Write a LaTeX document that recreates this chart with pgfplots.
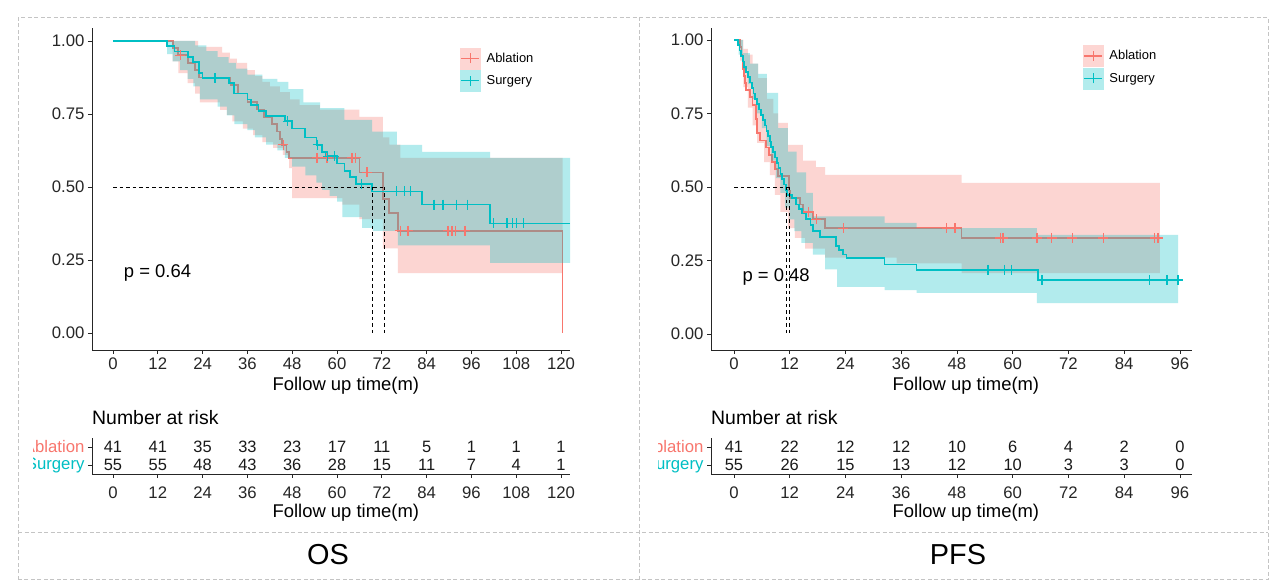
\documentclass[border=0pt]{standalone}
\usepackage{pgfplots}
\pgfplotsset{compat=1.18}
\usepackage{fontspec}
\setmainfont{Liberation Sans}
\definecolor{abl}{HTML}{F8766D}
\definecolor{sur}{HTML}{00BFC4}
\definecolor{framec}{HTML}{C4C4C4}

\pgfplotsset{
  kmbase/.style={
    scale only axis,
    axis x line*=bottom, axis y line*=left,
    axis line style={black!85, line width=0.9bp, -},
    tick align=outside, major tick length=4bp,
    every tick/.style={black!85, line width=0.8bp},
    tick label style={font=\fontsize{16.8}{17}\selectfont, text=black!85},
    /pgf/number format/assume math mode=true,
    xlabel style={font=\fontsize{18.5}{18.5}\selectfont, anchor=north, yshift=-24bp},
  },
  kmmain/.style={kmbase, height=322bp,
    ytick={0,0.25,0.5,0.75,1},
    yticklabel style={/pgf/number format/.cd, fixed, fixed zerofill, precision=2},
    xlabel={Follow up time(m)},
    legend style={draw=none, fill=none, font=\fontsize{13}{13.5}\selectfont, row sep=1bp, inner sep=0pt,
      /tikz/every odd column/.append style={column sep=4bp}},
    legend cell align=left,
  },
  kmrisk/.style={kmbase, height=36bp, ymin=0.5, ymax=2.5, ytick={1,2}, clip=false,
    yticklabels={\textcolor{sur}{Surgery}, \textcolor{abl}{Ablation}},
    xticklabel style={yshift=-5bp},
    xlabel={Follow up time(m)}, xlabel style={yshift=-3bp},
  },
  band/.style={const plot, draw=none, fill opacity=0.3, forget plot},
  kmline/.style={const plot, line width=1.7bp, forget plot},
  cens/.style={only marks, mark=+, mark size=5bp, line width=1.3bp, forget plot},
  medline/.style={black, line width=0.9bp, dash pattern=on 3.5bp off 3bp, forget plot},
  risknum/.style={only marks, mark=none, nodes near coords, point meta=explicit symbolic,
    every node near coord/.append style={anchor=center, font=\fontsize{16.5}{17}\selectfont, text=black!90}},
  ablkey/.style={legend image code/.code={
    \fill[abl!30] (0bp,-10.5bp) rectangle (20bp,10.5bp);
    \draw[abl, line width=1.4bp] (1bp,0bp) -- (19bp,0bp);
    \draw[abl, line width=1.4bp] (10bp,-5bp) -- (10bp,5bp);}},
  surkey/.style={legend image code/.code={
    \fill[sur!30] (0bp,-10.5bp) rectangle (20bp,10.5bp);
    \draw[sur, line width=1.4bp] (1bp,0bp) -- (19bp,0bp);
    \draw[sur, line width=1.4bp] (10bp,-5bp) -- (10bp,5bp);}},
}

\begin{document}
\begin{tikzpicture}
\useasboundingbox (0,0) rectangle (1274bp,584bp);
\fill[white] (0,0) rectangle (1274bp,584bp);

%================ OS main =================
\begin{axis}[kmmain, at={(92bp,234bp)}, anchor=south west, width=478bp,
  xmin=-5.625, xmax=122.4, ymin=-0.0582, ymax=1.0445, xtick={0,12,...,120},
  xlabel style={at={(axis description cs:0.531,0)}},
  legend style={at={(0.77,0.94)}, anchor=north west}]
\addlegendimage{ablkey}\addlegendentry{Ablation}
\addlegendimage{surkey}\addlegendentry{Surgery}
% Ablation band: upper limit forward, lower limit backward
\addplot[band, fill=abl] table {
x y
0 1
22.8 0.98
29.2 0.96
31.3 0.94
33.2 0.925
35.9 0.90
38 0.88
40 0.86
42 0.845
44.7 0.825
47.4 0.80
50 0.78
55.4 0.765
66 0.74
72.3 0.67
74 0.645
77 0.60
120.4 0.60
120.4 0.205
76.3 0.29
72.3 0.39
66 0.44
61.4 0.462
48 0.565
47.2 0.61
45.5 0.634
42.9 0.654
40 0.678
37.5 0.70
34.8 0.725
32 0.747
30.5 0.764
28.7 0.79
23.3 0.82
22 0.856
20 0.89
17.5 0.93
16 1
0 1
} -- cycle;
\addplot[kmline, abl] table {
x y
0 1
16 0.976
17.5 0.951
20 0.925
22 0.90
23 0.875
31.5 0.85
33.5 0.82
36 0.79
38.5 0.765
40.5 0.74
42.5 0.715
44 0.69
44.7 0.665
45.2 0.645
46.5 0.62
47.2 0.60
66 0.55
72.3 0.46
74 0.41
76.3 0.35
120.4 0.35
120.4 0.0
};
\addplot[cens, abl] coordinates {(18,0.951) (45.6,0.645) (54.6,0.60) (57.3,0.60) (64,0.60) (65,0.60) (68,0.55)
  (77,0.35) (79,0.35) (89.7,0.35) (90.8,0.35) (91.8,0.35) (94.3,0.35)};
% Surgery band
\addplot[band, fill=sur] table {
x y
0 1
22 0.985
25 0.965
28 0.945
31 0.925
33 0.905
36 0.885
40 0.87
44 0.86
47 0.835
51 0.79
55.5 0.77
62 0.73
69.4 0.69
76 0.644
82.8 0.62
101 0.60
122.4 0.60
122.4 0.24
101 0.30
76.3 0.35
69.6 0.36
66.7 0.397
61.4 0.45
60 0.47
58 0.49
56 0.515
54.5 0.54
51.5 0.57
48 0.60
46 0.625
44 0.645
41 0.67
38 0.695
36 0.715
32.5 0.745
30.5 0.775
28 0.80
23.3 0.845
21.5 0.87
20 0.90
18 0.93
16 0.955
14.5 1
0 1
} -- cycle;
\addplot[kmline, sur] table {
x y
0 1
14.5 0.982
16.5 0.964
20 0.945
21.5 0.927
23 0.89
24 0.873
31 0.855
32.5 0.82
36 0.80
37 0.78
39 0.76
41 0.743
46 0.725
48 0.70
51.5 0.67
54.5 0.645
56 0.62
57 0.605
60 0.58
62 0.555
63.5 0.535
65 0.51
69.4 0.485
82.8 0.44
101 0.375
122.4 0.375
};
\addplot[cens, sur] coordinates {(27.3,0.873) (46.8,0.725) (54.8,0.645) (57.5,0.605) (59.3,0.605) (66.5,0.51)
  (76,0.485) (78,0.485) (79.6,0.485) (86,0.44) (88.4,0.44) (92,0.44) (95,0.44)
  (102,0.375) (105.5,0.375) (107,0.375) (108,0.375) (110,0.375)};
% medians
\addplot[medline] coordinates {(0,0.5) (72.6,0.5)};
\addplot[medline] coordinates {(69.6,0.5) (69.6,0)};
\addplot[medline] coordinates {(72.6,0.5) (72.6,0)};
\node[anchor=west, font=\fontsize{18.5}{18.5}\selectfont] at (axis cs:2.0,0.205) {p = 0.64};
\end{axis}

%================ OS risk table =================
\begin{axis}[kmrisk, at={(92bp,110bp)}, anchor=south west, width=478bp,
  xmin=-5.625, xmax=122.4, xtick={0,12,...,120},
  xlabel style={at={(axis description cs:0.531,0)}}]
\addplot[risknum] table[meta=n] {
x y n
0 2 41
12 2 41
24 2 35
36 2 33
48 2 23
60 2 17
72 2 11
84 2 5
96 2 1
108 2 1
120 2 1
0 1 55
12 1 55
24 1 48
36 1 43
48 1 36
60 1 28
72 1 15
84 1 11
96 1 7
108 1 4
120 1 1
};
\node[anchor=base west, inner sep=0pt, font=\fontsize{19.5}{19.5}\selectfont] at ([yshift=13bp]rel axis cs:0,1) {Number at risk};
\end{axis}

%================ PFS main =================
\begin{axis}[kmmain, at={(711bp,234bp)}, anchor=south west, width=481bp,
  xmin=-4.95, xmax=98.6, ymin=-0.0544, ymax=1.0408, xtick={0,12,...,96},
  xlabel style={at={(axis description cs:0.53,0)}},
  legend style={at={(0.773,0.947)}, anchor=north west}]
\addlegendimage{ablkey}\addlegendentry{Ablation}
\addlegendimage{surkey}\addlegendentry{Surgery}
\addplot[band, fill=abl] table {
x y
0 1
2 0.97
3 0.95
4 0.92
5.2 0.87
7.1 0.80
8.5 0.75
9.5 0.718
11.6 0.643
14.8 0.59
17.6 0.568
19.6 0.541
49 0.514
91.7 0.514
91.7 0.207
49 0.24
35 0.26
19.6 0.29
15.3 0.327
13.1 0.36
11.6 0.415
10 0.473
8.8 0.54
7.7 0.585
6.5 0.65
5 0.71
4 0.77
3 0.84
2 0.93
1.3 1
0 1
} -- cycle;
\addplot[kmline, abl] table {
x y
0 1
1.3 0.976
1.6 0.951
1.8 0.927
2.0 0.902
2.2 0.878
2.4 0.854
2.6 0.83
3.4 0.805
4.0 0.78
4.7 0.756
4.8 0.732
4.9 0.707
5.0 0.683
5.6 0.658
6.9 0.634
7.5 0.61
8.2 0.585
8.8 0.561
9.4 0.537
11.8 0.51
11.9 0.488
12.1 0.463
14.2 0.44
14.8 0.415
17.0 0.39
19.6 0.36
49.0 0.327
91.7 0.327
};
\addplot[cens, abl] coordinates {(16,0.415) (17.7,0.39) (23.5,0.36) (45.8,0.36) (47.6,0.36)
  (57.3,0.327) (57.9,0.327) (65.2,0.327) (68.4,0.327) (72.8,0.327) (79.5,0.327) (90.6,0.327) (91.3,0.327)};
\addplot[band, fill=sur] table {
x y
0 1
1.9 0.955
3.4 0.92
5.2 0.885
7.1 0.82
9.5 0.70
11.6 0.62
13.5 0.55
15.5 0.48
17 0.40
32.4 0.378
39.3 0.36
65.2 0.337
95.6 0.337
95.6 0.105
65.2 0.14
39.3 0.149
32.4 0.16
22.2 0.22
19.6 0.27
17 0.31
14.5 0.35
13 0.39
12 0.43
11 0.48
10 0.53
9 0.59
8 0.64
7 0.70
6 0.75
5 0.80
4 0.85
3 0.90
2 0.95
1 1
0 1
} -- cycle;
\addplot[kmline, sur] table {
x y
0 1
0.8 0.982
1.2 0.964
1.5 0.945
1.9 0.927
2.2 0.909
2.6 0.891
3.0 0.873
3.4 0.855
3.8 0.836
4.2 0.818
4.5 0.80
5.0 0.782
5.4 0.764
5.8 0.745
6.2 0.727
6.6 0.709
7.0 0.691
7.3 0.673
7.7 0.655
8.0 0.636
8.4 0.618
8.8 0.60
9.2 0.582
9.6 0.564
10.0 0.545
10.4 0.527
10.8 0.509
11.2 0.49
11.4 0.473
12.5 0.463
13.3 0.44
14.0 0.425
14.6 0.41
15.5 0.39
16.5 0.37
17.0 0.35
18.5 0.33
22.0 0.30
22.6 0.286
23.5 0.27
24.2 0.258
32.4 0.236
39.3 0.218
65.4 0.184
95.6 0.184
};
\addplot[cens, sur] coordinates {(54.7,0.218) (58.3,0.218) (59.8,0.218) (66.3,0.184) (89.5,0.184) (93.2,0.184) (95.6,0.184)};
\addplot[medline] coordinates {(0,0.5) (11.9,0.5)};
\addplot[medline] coordinates {(11.2,0.5) (11.2,0)};
\addplot[medline] coordinates {(11.9,0.5) (11.9,0)};
\node[anchor=west, font=\fontsize{18.5}{18.5}\selectfont] at (axis cs:1.1,0.194) {p = 0.48};
\end{axis}

%================ PFS risk table =================
\begin{axis}[kmrisk, at={(711bp,110bp)}, anchor=south west, width=481bp,
  xmin=-4.95, xmax=98.6, xtick={0,12,...,96},
  xlabel style={at={(axis description cs:0.53,0)}}]
\addplot[risknum] table[meta=n] {
x y n
0 2 41
12 2 22
24 2 12
36 2 12
48 2 10
60 2 6
72 2 4
84 2 2
96 2 0
0 1 55
12 1 26
24 1 15
36 1 13
48 1 12
60 1 10
72 1 3
84 1 3
96 1 0
};
\node[anchor=base west, inner sep=0pt, font=\fontsize{19.5}{19.5}\selectfont] at ([yshift=13bp]rel axis cs:0,1) {Number at risk};
\end{axis}

% masks that crop the row labels as in the source panels
\fill[white] (19bp,108bp) rectangle (33bp,146bp);
\fill[white] (640bp,108bp) rectangle (658bp,146bp);

% panel frame
\begin{scope}[framec, line width=1bp, dash pattern=on 4bp off 2.5bp]
\draw (18bp,4bp) rectangle (1268bp,566bp);
\draw (639bp,4bp) -- (639bp,566bp);
\draw (18bp,51bp) -- (1268bp,51bp);
\end{scope}
\node[font=\fontsize{29}{29}\selectfont] at (328bp,29bp) {OS};
\node[font=\fontsize{29}{29}\selectfont] at (958bp,29bp) {PFS};
\end{tikzpicture}
\end{document}
